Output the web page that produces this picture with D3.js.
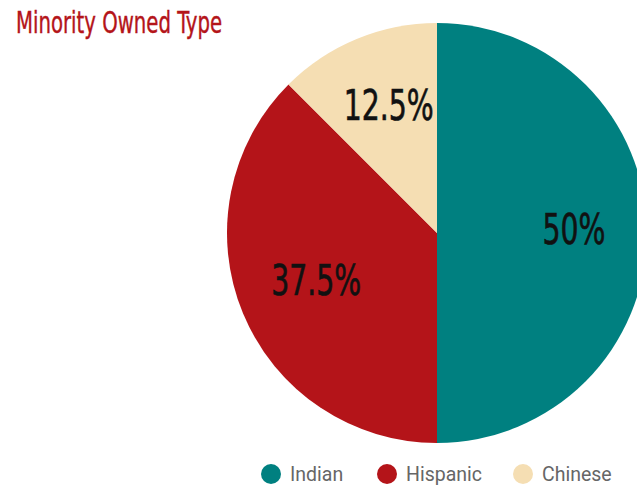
<!DOCTYPE html>
<html><head><meta charset="utf-8">
<script src="https://cdn.jsdelivr.net/npm/d3@7"></script>
<style>body{margin:0;background:#fff;overflow:hidden}</style>
</head><body>
<svg id="c" width="637" height="487"></svg>
<script>
const categories = ["Indian", "Hispanic", "Chinese"];
const values = [50, 37.5, 12.5];
const labels = ["50%", "37.5%", "12.5%"];
const colors = ["#008080", "#b41419", "#f5deb3"];
const title = "Minority Owned Type";

const svg = d3.select("#c");
const cx = 437, cy = 233, r = 210;
const condensed = "'DejaVu Sans Condensed', 'Liberation Sans Narrow', sans-serif";

const pie = d3.pie().sort(null).value(d => d)(values);
const arc = d3.arc().innerRadius(0).outerRadius(r);
const labelArc = d3.arc().innerRadius(134).outerRadius(134);

const g = svg.append("g").attr("transform", `translate(${cx},${cy})`);
g.selectAll("path").data(pie).join("path")
  .attr("d", arc).attr("fill", (d, i) => colors[i]);

g.selectAll("text").data(pie).join("text")
  .attr("transform", d => { const [x, y] = labelArc.centroid(d); return `translate(${x + 3},${y}) scale(0.75,1)`; })
  .attr("text-anchor", "middle").attr("dy", "0.26em")
  .attr("font-family", condensed).attr("font-size", 42)
  .attr("fill", "#111").attr("stroke", "#111").attr("stroke-width", 0.6)
  .text((d, i) => labels[i]);

svg.append("text").attr("transform", "translate(16,33) scale(0.73,1)")
  .attr("font-family", condensed).attr("font-size", 30)
  .attr("fill", "#b41419").attr("stroke", "#b41419").attr("stroke-width", 0.4)
  .text(title);

const leg = svg.append("g");
const lx = [271, 387, 523];
categories.forEach((c, i) => {
  leg.append("circle").attr("cx", lx[i]).attr("cy", 474).attr("r", 10).attr("fill", colors[i]);
  leg.append("text").attr("x", lx[i] + 19).attr("y", 481)
    .attr("font-family", "Roboto, sans-serif").attr("font-size", 19.5)
    .attr("fill", "#666").text(c);
});
</script>
</body></html>
